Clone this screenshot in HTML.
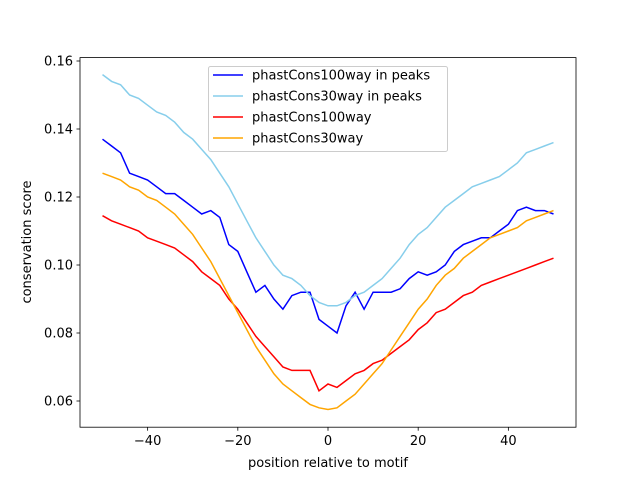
<!DOCTYPE html>
<html><head><meta charset="utf-8"><style>
body{margin:0;background:#fff}
svg{display:block;font-family:"DejaVu Sans","Liberation Sans",sans-serif}
</style></head><body>
<svg id="chart" width="640" height="480">
<rect x="0" y="0" width="640" height="480" fill="#fff"/>
<g id="plot"></g>
</svg>
<script>
const positions=[];for(let p=-50;p<=50;p+=2)positions.push(p);
const peaks100=[.137,.135,.133,.127,.126,.125,.123,.121,.121,.119,.117,.115,.116,.114,.106,.104,.098,.092,.094,.090,.087,.091,.092,.092,.084,.082,.080,.088,.092,.087,.092,.092,.092,.093,.096,.098,.097,.098,.100,.104,.106,.107,.108,.108,.110,.112,.116,.117,.116,.116,.115];
const peaks30=[.156,.154,.153,.150,.149,.147,.145,.144,.142,.139,.137,.134,.131,.127,.123,.118,.113,.108,.104,.100,.097,.096,.094,.091,.089,.088,.088,.089,.091,.092,.094,.096,.099,.102,.106,.109,.111,.114,.117,.119,.121,.123,.124,.125,.126,.128,.130,.133,.134,.135,.136];
const all100=[.1145,.113,.112,.111,.110,.108,.107,.106,.105,.103,.101,.098,.096,.094,.090,.087,.083,.079,.076,.073,.070,.069,.069,.069,.063,.065,.064,.066,.068,.069,.071,.072,.074,.076,.078,.081,.083,.086,.087,.089,.091,.092,.094,.095,.096,.097,.098,.099,.100,.101,.102];
const all30=[.127,.126,.125,.123,.122,.120,.119,.117,.115,.112,.109,.105,.101,.096,.091,.086,.081,.076,.072,.068,.065,.063,.061,.059,.058,.0575,.058,.060,.062,.065,.068,.071,.075,.079,.083,.087,.090,.094,.097,.099,.102,.104,.106,.108,.109,.110,.111,.113,.114,.115,.116];
const seriesNames=["phastCons100way in peaks","phastCons30way in peaks","phastCons100way","phastCons30way"];
const xTicks=[-40,-20,0,20,40];
const yTicks=[0.06,0.08,0.10,0.12,0.14,0.16];
const yTickLabels=["0.06","0.08","0.10","0.12","0.14","0.16"];

const L=80,R=576,T=57.6,B=427.2;
const xs=v=>L+(v+55)/110*(R-L);
const ys=v=>61+(0.16-v)*3400;
const NS="http://www.w3.org/2000/svg";
const g=document.getElementById('plot');
function mk(t,a){const e=document.createElementNS(NS,t);for(const k in a)e.setAttribute(k,a[k]);g.appendChild(e);return e;}
const colors=["#0000ff","#87ceeb","#ff0000","#ffa500"];
const data=[peaks100,peaks30,all100,all30];
data.forEach((arr,i)=>{
  const d=arr.map((v,j)=>(j?'L':'M')+xs(positions[j]).toFixed(1)+' '+ys(v).toFixed(1)).join(' ');
  const p=mk('path',{d:d,fill:'none',stroke:colors[i],'stroke-width':1.5});
  
  
});
const frame=mk('rect',{x:L,y:T,width:R-L,height:B-T,fill:'none',stroke:'#000','stroke-width':0.8});


xTicks.forEach(v=>{
  const x=xs(v);
  mk('line',{x1:x,x2:x,y1:B,y2:B+3.5,stroke:'#000','stroke-width':0.8});
  const t=mk('text',{x:x,y:B+18,'text-anchor':'middle','font-size':13,fill:'#000'});
  t.textContent=(v<0?'\u2212'+(-v):v);
  
  
});
yTicks.forEach((v,i)=>{
  const y=ys(v);
  mk('line',{x1:L-3.5,x2:L,y1:y,y2:y,stroke:'#000','stroke-width':0.8});
  const t=mk('text',{x:L-7,y:y+4.5,'text-anchor':'end','font-size':13,fill:'#000'});
  t.textContent=yTickLabels[i];
  
  
});
const xl=mk('text',{x:328,y:467,'text-anchor':'middle','font-size':13,fill:'#000'});
xl.textContent='position relative to motif';


const yl=mk('text',{x:31,y:242,'text-anchor':'middle','font-size':13,fill:'#000',transform:'rotate(-90 31 242)'});
yl.textContent='conservation score';


const lg=mk('rect',{x:208.5,y:66.5,width:239,height:85,rx:2,fill:'#fff','fill-opacity':0.8,stroke:'#ccc','stroke-width':1});


seriesNames.forEach((n,i)=>{
  const y=75+i*21;
  mk('line',{x1:213,x2:243,y1:y,y2:y,stroke:colors[i],'stroke-width':1.5});
  const t=mk('text',{x:252,y:y+4.5,'font-size':13,fill:'#000'});
  t.textContent=n;
  
  
});
</script>
</body></html>
